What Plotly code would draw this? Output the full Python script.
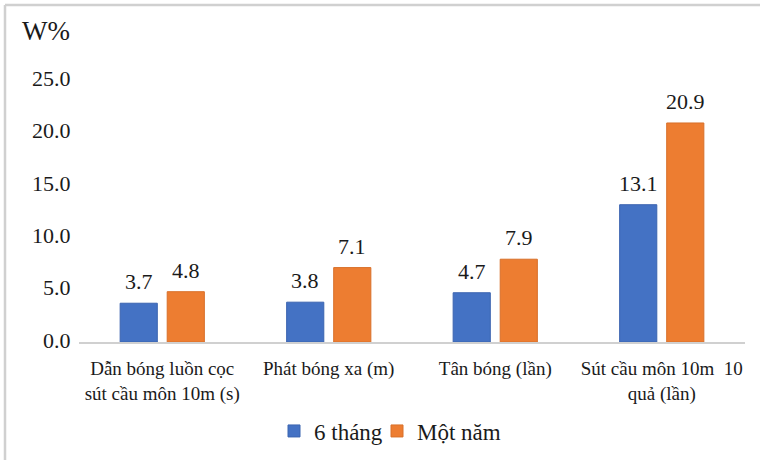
import plotly.graph_objects as go

# Chart data
categories = [
    "Dẫn bóng luồn cọc<br>sút cầu môn 10m (s)",
    "Phát bóng xa (m)",
    "Tân bóng (lần)",
    "Sút cầu môn 10m  10<br>quả (lần)",
]
six_months = [3.7, 3.8, 4.7, 13.1]
one_year = [4.8, 7.1, 7.9, 20.9]
series_names = ["6 tháng", "Một năm"]
y_ticks = [0, 5, 10, 15, 20, 25]

W, H = 760, 460
ML, MR, MT, MB = 79, 15, 80, 118
PW, PH = W - ML - MR, H - MT - MB

FONT = "Times New Roman, Liberation Serif, Tinos, Noto Serif, serif"
BLUE, ORANGE = "#4472C4", "#ED7D31"

x_idx = list(range(len(categories)))

fig = go.Figure()
fig.add_trace(go.Bar(
    x=x_idx, y=six_months, name=series_names[0], legend="legend",
    marker=dict(color=BLUE, line=dict(color="#3B64B0", width=1)),
))
fig.add_trace(go.Bar(
    x=x_idx, y=one_year, name=series_names[1], legend="legend2",
    marker=dict(color=ORANGE, line=dict(color="#D8702A", width=1)),
))


def px_x(p):
    return (p - ML) / PW


def px_y(p):
    return (H - MB - p) / PH


# value labels above each bar
bargap, bargroupgap = 0.435, 0.21
slot = (1 - bargap) / 2
px_per_cat = PW / len(categories)
shift = slot / 2 * px_per_cat
annotations = []
for i in x_idx:
    for vals, dx in ((six_months, -shift), (one_year, shift)):
        annotations.append(dict(
            x=i, y=vals[i], xref="x", yref="y", text=f"{vals[i]:.1f}",
            showarrow=False, xshift=dx, yshift=7, yanchor="bottom",
            font=dict(family=FONT, size=22, color="#1a1a1a"),
        ))

# axis title in the top-left corner
annotations.append(dict(
    x=px_x(20), y=px_y(31), xref="paper", yref="paper",
    text="W%", showarrow=False, xanchor="left", yanchor="middle",
    font=dict(family=FONT, size=27, color="#1a1a1a"),
))

# light frame along the top and left edges
shapes = [
    dict(type="line", xref="paper", yref="paper",
         x0=px_x(5), x1=px_x(W + 5), y0=px_y(5), y1=px_y(5),
         line=dict(color="#D0D0D0", width=2.5)),
    dict(type="line", xref="paper", yref="paper",
         x0=px_x(5), x1=px_x(5), y0=px_y(5), y1=px_y(H + 5),
         line=dict(color="#D0D0D0", width=2.5)),
]

legend_style = dict(
    orientation="h", xanchor="left", yanchor="middle",
    xref="container", yref="container", y=1 - 431 / H,
    font=dict(family=FONT, size=23, color="#1a1a1a"),
    itemwidth=30, bgcolor="rgba(0,0,0,0)",
)

fig.update_layout(
    width=W, height=H,
    margin=dict(l=ML, r=MR, t=MT, b=MB, pad=0, autoexpand=False),
    paper_bgcolor="white", plot_bgcolor="white",
    barmode="group", bargap=bargap, bargroupgap=bargroupgap,
    font=dict(family=FONT, color="#1a1a1a"),
    annotations=annotations, shapes=shapes,
    showlegend=True,
    legend=dict(legend_style, x=274 / W),
    legend2=dict(legend_style, x=377 / W),
    xaxis=dict(
        tickmode="array", tickvals=x_idx, ticktext=categories,
        range=[-0.5, len(categories) - 0.5], automargin=False,
        showgrid=False, zeroline=False,
        showline=True, linecolor="#D0D0D0", linewidth=2,
        ticks="outside", ticklen=8, tickcolor="rgba(0,0,0,0)",
        tickfont=dict(family=FONT, size=19, color="#1a1a1a"),
    ),
    yaxis=dict(
        range=[0, 25], tickvals=y_ticks, automargin=False,
        ticktext=[f"{v:.1f}" for v in y_ticks],
        showgrid=False, zeroline=False, showline=False,
        ticks="outside", ticklen=3, tickcolor="rgba(0,0,0,0)",
        ticklabelshift=-2,
        tickfont=dict(family=FONT, size=22, color="#1a1a1a"),
    ),
)

fig.write_html("out.html")
